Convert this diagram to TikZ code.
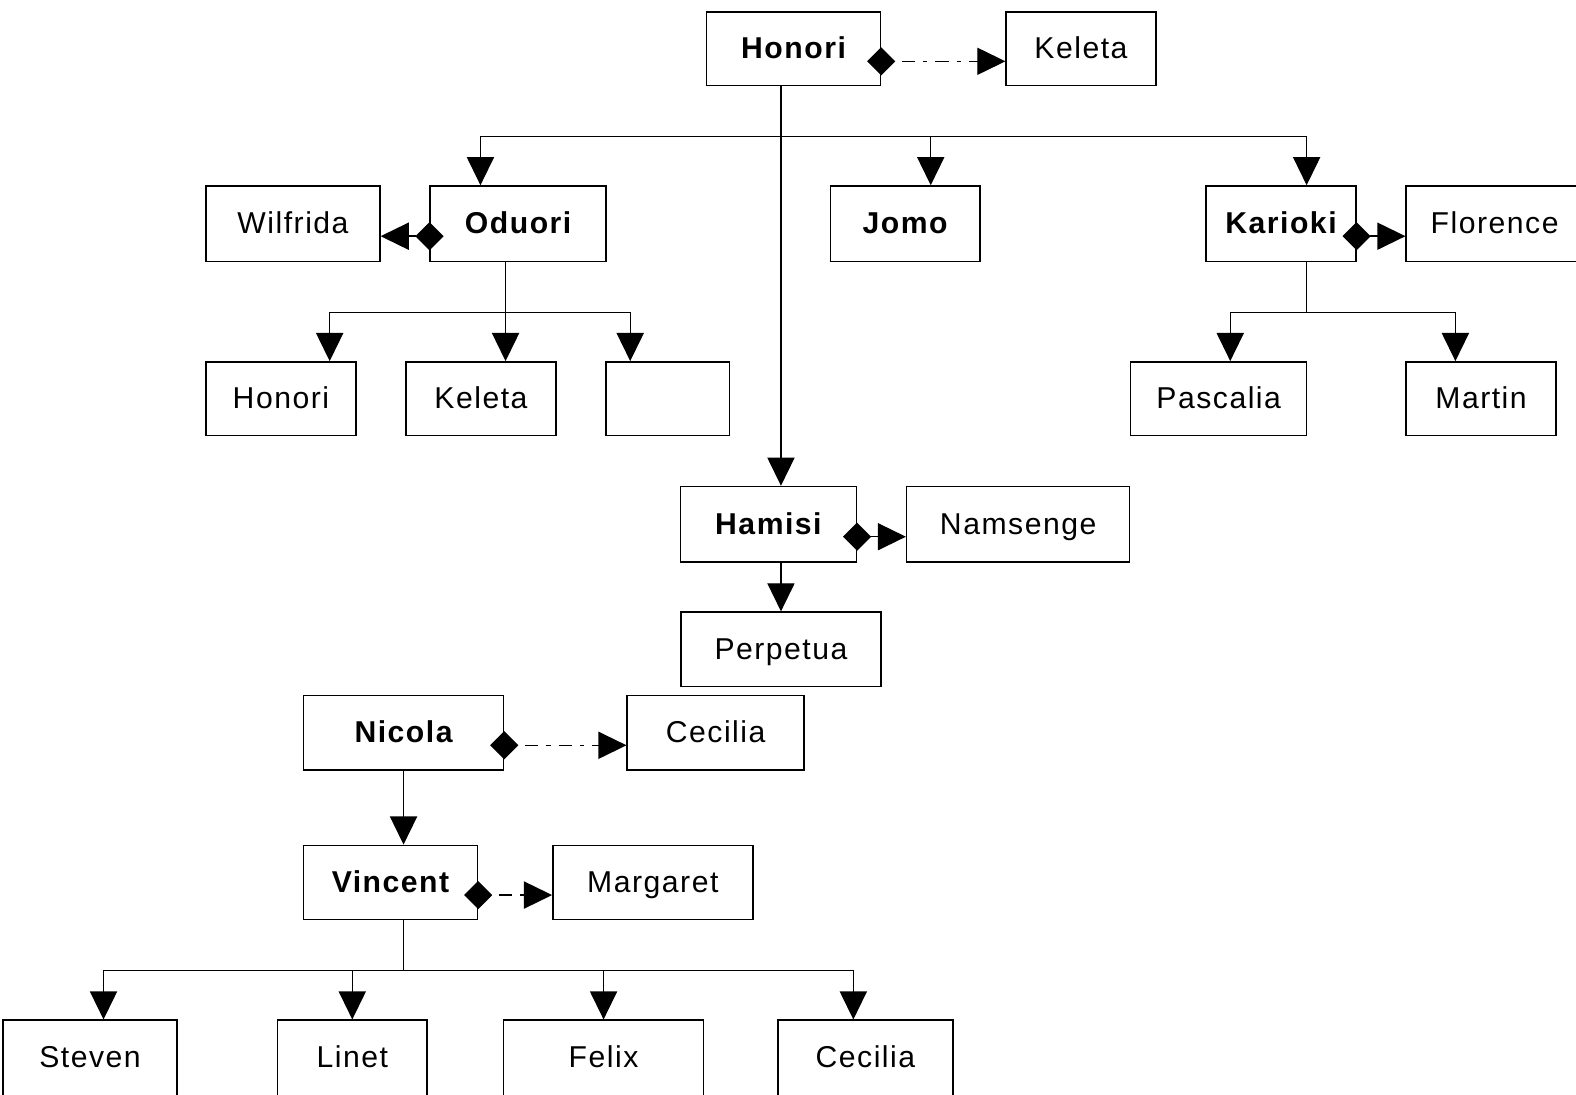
\documentclass[tikz,border=0pt]{standalone}
\usepackage{fontspec}
\setmainfont[LetterSpace=5]{Liberation Sans}
\usetikzlibrary{arrows.meta}
\tikzset{
  box/.style={draw, line width=1.4pt, inner sep=0pt, text height=22pt, text depth=2pt, font=\fontsize{30}{32}\selectfont},
  bbox/.style={box, font=\fontsize{30}{32}\selectfont\bfseries},
  cutbox/.style={box, minimum height=84pt, text depth=12pt},
  conn/.style={line width=1.4pt},
  down/.style={conn, -{Triangle[length=28pt,width=27pt]}},
  spouse/.style={conn, {Diamond[length=28pt,width=28pt]}-{Triangle[length=28pt,width=27pt]}},
  dd/.style={dash pattern=on 13pt off 8pt on 4pt off 8pt, dash phase=25pt},
}
\begin{document}
\begin{tikzpicture}[x=1pt,y=1pt]
\useasboundingbox (0,0) rectangle (1568,-1089);
\clip (0,0) rectangle (1568,-1089);
% row 1
\node[bbox, minimum width=173pt, minimum height=73pt] (honori) at (789.5,-48.5) {Honori};
\node[box, minimum width=149pt, minimum height=73pt] (keleta) at (1075.5,-48.5) {Keleta};
% row 2
\node[box, minimum width=173pt, minimum height=75pt] (wilfrida) at (291.5,-222.5) {Wilfrida};
\node[bbox, minimum width=175pt, minimum height=75pt] (oduori) at (515.5,-222.5) {Oduori};
\node[bbox, minimum width=149pt, minimum height=75pt] (jomo) at (900.5,-222.5) {Jomo};
\node[bbox, minimum width=149pt, minimum height=75pt] (karioki) at (1274.5,-222.5) {Karioki};
\node[box, minimum width=176pt, minimum height=75pt] (florence) at (1487,-222.5) {Florence};
% row 3
\node[box, minimum width=149pt, minimum height=73pt] (honoriB) at (279.5,-396.5) {Honori};
\node[box, minimum width=149pt, minimum height=73pt] (keletaB) at (478.5,-396.5) {Keleta};
\node[box, minimum width=123pt, minimum height=73pt] (empty) at (664.5,-396.5) {};
\node[box, minimum width=175pt, minimum height=73pt] (pascalia) at (1212.5,-396.5) {Pascalia};
\node[box, minimum width=149pt, minimum height=73pt] (martin) at (1473.5,-396.5) {Martin};
% Hamisi
\node[bbox, minimum width=175pt, minimum height=75pt] (hamisi) at (764.5,-521.5) {Hamisi};
\node[box, minimum width=222pt, minimum height=75pt] (namsenge) at (1013,-521.5) {Namsenge};
\node[box, minimum width=199pt, minimum height=74pt] (perpetua) at (777,-646) {Perpetua};
% Nicola
\node[bbox, minimum width=199pt, minimum height=74pt] (nicola) at (401.5,-729) {Nicola};
\node[box, minimum width=176pt, minimum height=74pt] (cecilia) at (712,-729) {Cecilia};
% Vincent
\node[bbox, minimum width=173pt, minimum height=74pt] (vincent) at (388.5,-878) {Vincent};
\node[box, minimum width=199pt, minimum height=74pt] (margaret) at (649.5,-878) {Margaret};
% bottom row (cut by the lower edge)
\node[cutbox, minimum width=173pt] (steven) at (89.5,-1057) {Steven};
\node[cutbox, minimum width=149pt] (linet) at (350.5,-1057) {Linet};
\node[cutbox, minimum width=199pt] (felix) at (600.5,-1057) {Felix};
\node[cutbox, minimum width=174pt] (ceciliaB) at (861,-1057) {Cecilia};

% Honori children
\draw[conn] ([xshift=-12.5pt]honori.south) -- ++(0,-50) coordinate (hb);
\draw[down] (hb) -| ([xshift=-37.5pt]oduori.north);
\draw[down] (hb) -| ([xshift=25.5pt]jomo.north);
\draw[down] (hb) -| ([xshift=25.5pt]karioki.north);
\draw[down] ([xshift=-12.5pt]honori.south) -- ([xshift=12.5pt]hamisi.north);
% Oduori children
\draw[conn] ([xshift=-12.5pt]oduori.south) -- ++(0,-50) coordinate (ob);
\draw[down] (ob) -| ([xshift=48.5pt]honoriB.north);
\draw[down] (ob) -| ([xshift=24.5pt]keletaB.north);
\draw[down] (ob) -| ([xshift=-37.5pt]empty.north);
% Karioki children
\draw[conn] ([xshift=25.5pt]karioki.south) -- ++(0,-50) coordinate (kb);
\draw[down] (kb) -| ([xshift=11.5pt]pascalia.north);
\draw[down] (kb) -| ([xshift=-25.5pt]martin.north);
% Hamisi child
\draw[down] ([xshift=12.5pt]hamisi.south) -- (perpetua.north);
% Nicola child
\draw[down] (nicola.south) -- ([xshift=13pt]vincent.north);
% Vincent children
\draw[conn] ([xshift=13pt]vincent.south) -- ++(0,-50) coordinate (vb);
\draw[down] (vb) -| ([xshift=13.5pt]steven.north);
\draw[down] (vb) -| (linet.north);
\draw[down] (vb) -| (felix.north);
\draw[down] (vb) -| ([xshift=-12pt]ceciliaB.north);

% spouses
\draw[spouse,dd] ([xshift=-14pt,yshift=-12.5pt]honori.east) -- ([yshift=-12.5pt]keleta.west);
\draw[spouse] ([xshift=14pt,yshift=-12.5pt]oduori.west) -- ([yshift=-12.5pt]wilfrida.east);
\draw[spouse] ([xshift=-14pt,yshift=-12.5pt]karioki.east) -- ([yshift=-12.5pt]florence.west);
\draw[spouse] ([xshift=-14pt,yshift=-12.5pt]hamisi.east) -- ([yshift=-12.5pt]namsenge.west);
\draw[spouse,dd] ([xshift=-14pt,yshift=-12.5pt]nicola.east) -- ([yshift=-12.5pt]cecilia.west);
\draw[spouse,dd] ([xshift=-14pt,yshift=-12.5pt]vincent.east) -- ([yshift=-12.5pt]margaret.west);
\end{tikzpicture}
\end{document}
